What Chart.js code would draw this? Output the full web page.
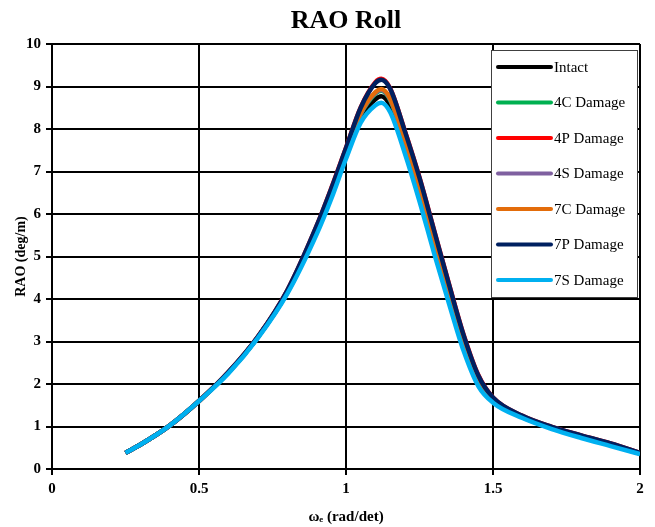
<!DOCTYPE html>
<html>
<head>
<meta charset="utf-8">
<title>RAO Roll</title>
<script src="https://cdn.jsdelivr.net/npm/chart.js@4.4.1/dist/chart.umd.min.js"></script>
<style>
  html, body { margin: 0; padding: 0; background: #fff; }
  #wrap { width: 655px; height: 527px; }
</style>
</head>
<body>
<div id="wrap"><canvas id="rao"></canvas></div>
<script>
// ---- data ----
const OMEGA = [0.25, 0.3, 0.4, 0.5, 0.6, 0.7, 0.8, 0.9, 0.95, 1.0, 1.05, 1.1, 1.12, 1.15,
               1.2, 1.25, 1.3, 1.35, 1.4, 1.45, 1.5, 1.6, 1.7, 1.8, 1.9, 2.0];

const INTACT = [0.38, 0.57, 1.02, 1.60, 2.27, 3.10, 4.15, 5.60, 6.45, 7.40, 8.28, 8.70, 8.77, 8.55,
                7.60, 6.50, 5.25, 4.05, 2.90, 2.05, 1.62, 1.22, 0.97, 0.77, 0.58, 0.36];
const D4C    = [0.38, 0.57, 1.02, 1.60, 2.27, 3.10, 4.16, 5.63, 6.50, 7.43, 8.34, 8.83, 8.90, 8.68,
                7.70, 6.60, 5.35, 4.15, 2.97, 2.10, 1.64, 1.23, 0.98, 0.78, 0.59, 0.37];
const D4P    = [0.38, 0.57, 1.02, 1.60, 2.28, 3.11, 4.20, 5.72, 6.61, 7.56, 8.51, 9.10, 9.18, 8.96,
                7.96, 6.86, 5.61, 4.36, 3.16, 2.21, 1.68, 1.25, 0.99, 0.79, 0.60, 0.38];
const D4S    = [0.38, 0.57, 1.02, 1.60, 2.27, 3.10, 4.16, 5.64, 6.51, 7.44, 8.36, 8.85, 8.92, 8.70,
                7.72, 6.62, 5.37, 4.17, 2.98, 2.11, 1.64, 1.23, 0.98, 0.78, 0.59, 0.37];
const D7C    = [0.38, 0.57, 1.02, 1.60, 2.27, 3.10, 4.17, 5.65, 6.52, 7.45, 8.38, 8.87, 8.94, 8.72,
                7.75, 6.65, 5.40, 4.20, 3.00, 2.12, 1.65, 1.24, 0.98, 0.78, 0.59, 0.37];
const D7P    = [0.38, 0.57, 1.02, 1.60, 2.28, 3.11, 4.20, 5.72, 6.60, 7.55, 8.50, 9.08, 9.16, 8.95,
                7.95, 6.85, 5.60, 4.35, 3.15, 2.20, 1.68, 1.25, 0.99, 0.79, 0.60, 0.38];
const D7S    = [0.38, 0.57, 1.02, 1.60, 2.25, 3.08, 4.12, 5.52, 6.36, 7.30, 8.15, 8.56, 8.62, 8.40,
                7.43, 6.30, 5.07, 3.90, 2.78, 1.95, 1.56, 1.20, 0.94, 0.73, 0.54, 0.35];

const SERIES = [
  { label: 'Intact',    values: INTACT, color: '#000000' },
  { label: '4C Damage', values: D4C,    color: '#00B050' },
  { label: '4P Damage', values: D4P,    color: '#FF0000' },
  { label: '4S Damage', values: D4S,    color: '#7F60A0' },
  { label: '7C Damage', values: D7C,    color: '#E36C0A' },
  { label: '7P Damage', values: D7P,    color: '#002060' },
  { label: '7S Damage', values: D7S,    color: '#00B0F0' }
];

const X_TICKS = [0, 0.5, 1, 1.5, 2];
const Y_MAX = 10;

const SERIF = "'Liberation Serif','Times New Roman',serif";

// legend drawn inside the plot, boxed, like the Excel original
const boxLegend = {
  id: 'boxLegend',
  afterDraw(chart) {
    const c = chart.ctx;
    const x = 491, y = 50, w = 146, h = 247;
    c.save();
    c.fillStyle = '#fff';
    c.fillRect(x, y, w, h);
    c.strokeStyle = '#404040';
    c.lineWidth = 1;
    c.strokeRect(x + 0.5, y + 0.5, w, h);
    c.font = '15px ' + SERIF;
    c.textBaseline = 'middle';
    chart.data.datasets.forEach((ds, i) => {
      const cy = 67 + i * 35.5;
      c.strokeStyle = ds.borderColor;
      c.lineWidth = 4;
      c.lineCap = 'round';
      c.beginPath();
      c.moveTo(498, cy);
      c.lineTo(551, cy);
      c.stroke();
      c.fillStyle = '#000';
      c.fillText(ds.label, 554, cy + 1);
    });
    c.restore();
  }
};

new Chart(document.getElementById('rao'), {
  type: 'line',
  data: {
    datasets: SERIES.map((s, i) => ({
      label: s.label,
      data: OMEGA.map((w, k) => ({ x: w, y: s.values[k] })),
      borderColor: s.color,
      backgroundColor: s.color,
      borderWidth: 4.5,
      pointRadius: 0,
      cubicInterpolationMode: 'monotone',
      fill: false,
      order: SERIES.length - i   // last series (7S) ends up on top, as in Excel
    }))
  },
  options: {
    responsive: true,
    maintainAspectRatio: false,
    animation: false,
    layout: { padding: { top: 0, right: 15, bottom: 0, left: 0 } },
    plugins: {
      legend: { display: false },
      tooltip: { enabled: false },
      title: {
        display: true,
        text: 'RAO Roll',
        color: '#000',
        fullSize: false,
        font: { family: SERIF, size: 26, weight: 'bold', lineHeight: 1.2 },
        padding: { top: 6, bottom: 6.8 }
      }
    },
    scales: {
      x: {
        type: 'linear',
        min: 0,
        max: 2,
        afterBuildTicks: (s) => { s.ticks = X_TICKS.map(v => ({ value: v })); },
        afterFit: (s) => { s.height = 58; },
        grid: { color: '#000', lineWidth: 2, tickLength: 6, drawTicks: true },
        border: { color: '#000', width: 2 },
        ticks: {
          color: '#000',
          padding: 5,
          font: { family: SERIF, size: 15, weight: 'bold' },
          callback: (v) => String(v)
        },
        title: {
          display: true,
          text: 'ωₑ (rad/det)',
          color: '#000',
          font: { family: SERIF, size: 15, weight: 'bold' },
          padding: { top: 0, bottom: 1 }
        }
      },
      y: {
        min: 0,
        max: Y_MAX,
        afterFit: (s) => { s.width = 52; },
        grid: { color: '#000', lineWidth: 2, tickLength: 6, drawTicks: true },
        border: { color: '#000', width: 2 },
        ticks: {
          stepSize: 1,
          color: '#000',
          padding: 5,
          font: { family: SERIF, size: 15, weight: 'bold' }
        },
        title: {
          display: true,
          text: 'RAO (deg/m)',
          color: '#000',
          font: { family: SERIF, size: 14, weight: 'bold' },
          padding: { top: 13, bottom: 0 }
        }
      }
    }
  },
  plugins: [boxLegend]
});
</script>
</body>
</html>
